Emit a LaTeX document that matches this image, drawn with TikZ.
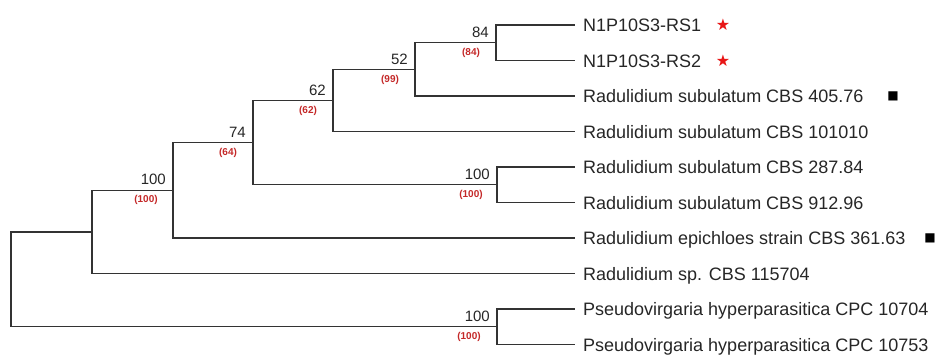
\documentclass[tikz,border=0pt]{standalone}
\usepackage{fontspec}
\setmainfont{Liberation Sans}
\newfontfamily\symfont{DejaVu Sans}
\definecolor{supred}{RGB}{196,40,40}
\definecolor{starred}{RGB}{232,22,22}
\tikzset{
  branch/.style={line width=1.3pt, draw=black!80},
  taxon/.style={anchor=west, inner xsep=8pt, inner ysep=0pt, text height=13pt, text depth=0pt,
    font=\fontsize{18}{20}\selectfont, text=black!85},
  boot/.style={anchor=south east, inner sep=0pt, font=\fontsize{15}{16}\selectfont, text=black!85},
  post/.style={inner sep=0pt, font=\bfseries\fontsize{10}{11}\selectfont, text=supred},
  newiso/.style={inner sep=0pt, font=\symfont\fontsize{16}{16}\selectfont, text=starred},
  typeiso/.style={inner sep=0pt, font=\symfont\fontsize{12}{12}\selectfont},
}
\begin{document}
\begin{tikzpicture}[x=1pt,y=-1pt]
  \useasboundingbox (0,0) rectangle (937,354);
  \coordinate (root) at (11,279.3);
  \coordinate (nR) at (92,231.9);
  \coordinate (nA) at (173,190.3);
  \coordinate (n74) at (253,142.6);
  \coordinate (n62) at (333,100.4);
  \coordinate (n52) at (415,69.4);
  \coordinate (n84) at (496,42.75);
  \coordinate (nB) at (497,184.75);
  \coordinate (nP) at (497,326.75);
  \node[taxon] (rs1) at (575,25) {N1P10S3-RS1};
  \node[taxon] (rs2) at (575,60.5) {N1P10S3-RS2};
  \node[taxon] (c405) at (575,96) {Radulidium subulatum CBS 405.76};
  \node[taxon] (c101) at (575,131.5) {Radulidium subulatum CBS 101010};
  \node[taxon] (c287) at (575,167) {Radulidium subulatum CBS 287.84};
  \node[taxon] (c912) at (575,202.5) {Radulidium subulatum CBS 912.96};
  \node[taxon] (epi) at (575,238) {Radulidium epichloes strain CBS 361.63};
  \node[taxon] (sp) at (575,273.5) {Radulidium sp. CBS 115704};
  \node[taxon] (pv1) at (575,309) {Pseudovirgaria hyperparasitica CPC 10704};
  \node[taxon] (pv2) at (575,344.5) {Pseudovirgaria hyperparasitica CPC 10753};
  \node[newiso] (st1) at (723,25) {★};
  \node[newiso] (st2) at (723,60.5) {★};
  \node[typeiso] (sq1) at (893,96) {■};
  \node[typeiso] (sq2) at (930,238) {■};
  \draw[branch] (root) |- (nR);
  \draw[branch] (root) |- (nP);
  \draw[branch] (nR) |- (nA);
  \draw[branch] (nR) |- (sp.west);
  \draw[branch] (nA) |- (n74);
  \draw[branch] (nA) |- (epi.west);
  \draw[branch] (n74) |- (n62);
  \draw[branch] (n74) |- (nB);
  \draw[branch] (n62) |- (n52);
  \draw[branch] (n62) |- (c101.west);
  \draw[branch] (n52) |- (n84);
  \draw[branch] (n52) |- (c405.west);
  \draw[branch] (n84) |- (rs1.west);
  \draw[branch] (n84) |- (rs2.west);
  \draw[branch] (nB) |- (c287.west);
  \draw[branch] (nB) |- (c912.west);
  \draw[branch] (nP) |- (pv1.west);
  \draw[branch] (nP) |- (pv2.west);
  \node[boot] (b84) at (489,37.5) {84};
  \node[post] (p84) at (471,53) {(84)};
  \node[boot] (b52) at (408,64.5) {52};
  \node[post] (p52) at (390,79.5) {(99)};
  \node[boot] (b62) at (326,95.5) {62};
  \node[post] (p62) at (308,110.5) {(62)};
  \node[boot] (b74) at (246,137.5) {74};
  \node[post] (p74) at (228,152.5) {(64)};
  \node[boot] (bA) at (166,185) {100};
  \node[post] (pA) at (146,199.5) {(100)};
  \node[boot] (bB) at (490,179.5) {100};
  \node[post] (pB) at (471,194.5) {(100)};
  \node[boot] (bP) at (490,321.5) {100};
  \node[post] (pP) at (469,337) {(100)};
\end{tikzpicture}
\end{document}
